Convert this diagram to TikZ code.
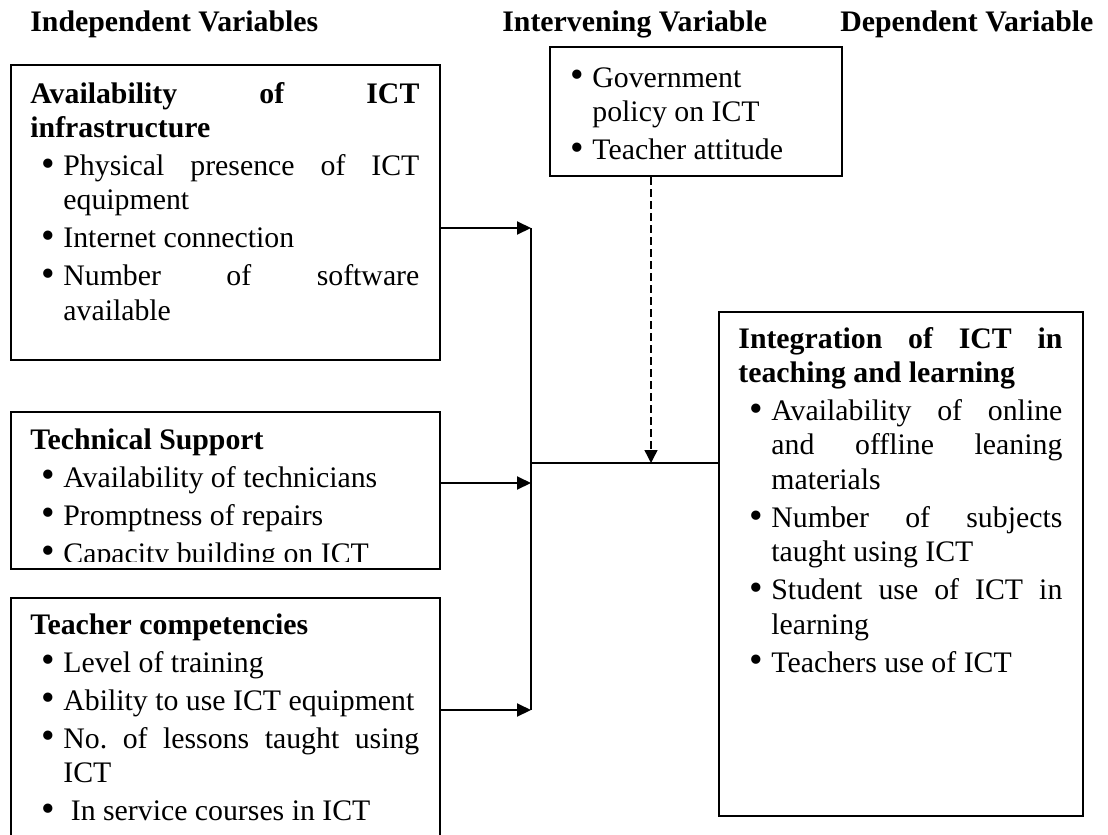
\documentclass[tikz,border=0pt]{standalone}
\usepackage{fontspec}
\setmainfont{Liberation Serif}
\usetikzlibrary{arrows.meta,fit}

\newcommand\figfont{\fontsize{14.9pt}{17.2pt}\selectfont}
% bullet item: * = first line of the box, #2 = bullet offset, text hangs 11pt further in
\NewDocumentCommand\bul{s O{5.5pt}}{\IfBooleanF{#1}{\par\vskip1.8pt}%
  \hangindent=\dimexpr#2+11pt\relax\hangafter=1
  \noindent\hbox to\dimexpr#2+11pt\relax{\hskip#2\raisebox{-0.4pt}{\scalebox{1.3}{\textbullet}}\hss}\ignorespaces}

\tikzset{
  frame/.style={draw, line width=1pt, inner sep=0pt},
  txt/.style={anchor=base west, inner sep=0pt, align=justify, font=\figfont},
  hdr/.style={anchor=base west, inner sep=0pt, font=\figfont\bfseries},
  link/.style={line width=1pt, -{Triangle[length=7pt,width=6.5pt]}},
  bus/.style={line width=1pt},
  effect/.style={line width=0.7pt, dash pattern=on 4pt off 2pt, -{Triangle[length=6.5pt,width=6.5pt]}}
}

\begin{document}
\begin{tikzpicture}[x=0.5pt, y=-0.5pt]
  \path[use as bounding box, fill=white] (0,0) rectangle (1108,835);
  \clip (0,0) rectangle (1108,835);

  % column titles
  \node[hdr] (hIndep)  at (30,32)  {Independent Variables};
  \node[hdr] (hInterv) at (502,32) {Intervening Variable};
  \node[hdr] (hDep)    at (840,32) {Dependent Variable};

  % frames
  \node[frame, fit={(11,65) (440,360)}]   (avail)  {};
  \node[frame, fit={(11,412) (440,569)}]  (tech)   {};
  \node[frame, fit={(11,598) (440,900)}]  (comp)   {};
  \node[frame, fit={(550,47) (842,176)}]  (interv) {};
  \node[frame, fit={(719,312) (1083,816)}] (integ) {};

  % frame contents
  \node[txt, text width=194.5pt] (availtxt) at ([shift={(10pt,-19.5pt)}]avail.north west)
    {\textbf{Availability of ICT\linebreak infrastructure}
     \bul Physical presence of ICT\linebreak equipment
     \bul Internet connection
     \bul Number of software\linebreak available\par};
  \begin{scope}
    \clip (tech.north west) rectangle ([yshift=4.5pt]tech.south east);
    \node[txt, text width=194.5pt] (techtxt) at ([shift={(10pt,-19pt)}]tech.north west)
      {\textbf{Technical Support}
       \bul Availability of technicians
       \bul Promptness of repairs
       \bul Capacity building on ICT\par};
  \end{scope}
  \node[txt, text width=194.5pt] (comptxt) at ([shift={(10pt,-18.5pt)}]comp.north west)
    {\textbf{Teacher competencies}
     \bul Level of training
     \bul Ability to use ICT equipment
     \bul No.\ of lessons taught using\linebreak ICT
     \bul\ In service courses in ICT\par};
  \node[txt, text width=126pt] (intervtxt) at ([shift={(10pt,-20.5pt)}]interv.north west)
    {\bul*[0.5pt] Government\newline policy on ICT
     \bul[0.5pt] Teacher attitude\par};
  \node[txt, text width=162pt] (integtxt) at ([shift={(10pt,-18.5pt)}]integ.north west)
    {\textbf{Integration of ICT in\linebreak teaching and learning}
     \bul Availability of online\linebreak and offline leaning\linebreak materials
     \bul Number of subjects\linebreak taught using ICT
     \bul Student use of ICT in\linebreak learning
     \bul Teachers use of ICT\par};

  % connectors
  \coordinate (busA) at (531,228);
  \coordinate (busB) at (531,483);
  \coordinate (busC) at (531,710);
  \coordinate (join) at (531,463);
  \coordinate (drop) at (651,463);
  \draw[link] (avail.east |- busA) -- (busA);
  \draw[link] (tech.east |- busB) -- (busB);
  \draw[link] (comp.east |- busC) -- (busC);
  \draw[bus] (busA) -- (busC);
  \draw[bus] (join) -- (integ.west |- join);
  \draw[effect] (interv.south -| drop) -- (drop);
\end{tikzpicture}
\end{document}
